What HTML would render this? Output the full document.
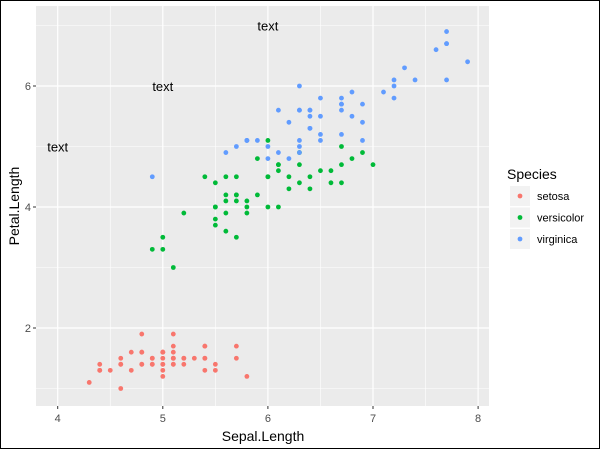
<!DOCTYPE html>
<html><head><meta charset="utf-8"><style>
body{margin:0;background:#fff}
svg{display:block;font-family:"Liberation Sans",sans-serif}
</style></head><body>
<svg id="chart" width="600" height="449">
<rect x="0.5" y="0.5" width="599" height="448" fill="#fff" stroke="#000"/>
<rect x="36" y="6" width="453" height="400" fill="#ebebeb"/>
<g id="grid"></g>
<g id="ticks"></g>
<g id="pts"></g>
<g id="ann"></g>
<text x="263" y="441" text-anchor="middle" font-size="14" fill="#000">Sepal.Length</text>
<text transform="translate(19,206) rotate(-90)" text-anchor="middle" font-size="14" fill="#000">Petal.Length</text>
<g>
<text x="507" y="179" font-size="14" fill="#000">Species</text>
<g id="legend"></g>
</g>
</svg>
<script>
const xTicks=[4,5,6,7,8];
const yTicks=[2,4,6];
const species=["setosa","versicolor","virginica"];
const colors=["#F8766D","#00BA38","#619CFF"];
const setosaSL=[5.1,4.9,4.7,4.6,5.0,5.4,4.6,5.0,4.4,4.9,5.4,4.8,4.8,4.3,5.8,5.7,5.4,5.1,5.7,5.1,5.4,5.1,4.6,5.1,4.8,5.0,5.0,5.2,5.2,4.7,4.8,5.4,5.2,5.5,4.9,5.0,5.5,4.9,4.4,5.1,5.0,4.5,4.4,5.0,5.1,4.8,5.1,4.6,5.3,5.0];
const setosaPL=[1.4,1.4,1.3,1.5,1.4,1.7,1.4,1.5,1.4,1.5,1.5,1.6,1.4,1.1,1.2,1.5,1.3,1.4,1.7,1.5,1.7,1.5,1.0,1.7,1.9,1.6,1.6,1.5,1.4,1.6,1.6,1.5,1.5,1.4,1.5,1.2,1.3,1.4,1.3,1.5,1.3,1.3,1.3,1.6,1.9,1.4,1.6,1.4,1.5,1.4];
const versicolorSL=[7.0,6.4,6.9,5.5,6.5,5.7,6.3,4.9,6.6,5.2,5.0,5.9,6.0,6.1,5.6,6.7,5.6,5.8,6.2,5.6,5.9,6.1,6.3,6.1,6.4,6.6,6.8,6.7,6.0,5.7,5.5,5.5,5.8,6.0,5.4,6.0,6.7,6.3,5.6,5.5,5.5,6.1,5.8,5.0,5.6,5.7,5.7,6.2,5.1,5.7];
const versicolorPL=[4.7,4.5,4.9,4.0,4.6,4.5,4.7,3.3,4.6,3.9,3.5,4.2,4.0,4.7,3.6,4.4,4.5,4.1,4.5,3.9,4.8,4.0,4.9,4.7,4.3,4.4,4.8,5.0,4.5,3.5,3.8,3.7,3.9,5.1,4.5,4.5,4.7,4.4,4.1,4.0,4.4,4.6,4.0,3.3,4.2,4.2,4.2,4.3,3.0,4.1];
const virginicaSL=[6.3,5.8,7.1,6.3,6.5,7.6,4.9,7.3,6.7,7.2,6.5,6.4,6.8,5.7,5.8,6.4,6.5,7.7,7.7,6.0,6.9,5.6,7.7,6.3,6.7,7.2,6.2,6.1,6.4,7.2,7.4,7.9,6.4,6.3,6.1,7.7,6.3,6.4,6.0,6.9,6.7,6.9,5.8,6.8,6.7,6.7,6.3,6.5,6.2,5.9];
const virginicaPL=[6.0,5.1,5.9,5.6,5.8,6.6,4.5,6.3,5.8,6.1,5.1,5.3,5.5,5.0,5.1,5.3,5.5,6.7,6.9,5.0,5.7,4.9,6.7,4.9,5.7,6.0,4.8,4.9,5.6,5.8,6.1,6.4,5.6,5.1,5.6,6.1,5.6,5.5,4.8,5.4,5.6,5.1,5.1,5.9,5.7,5.2,5.0,5.2,5.4,5.1];
const annX=[4,5,6];
const annY=[5,6,7];
const annLabels=["text","text","text"];

const NS="http://www.w3.org/2000/svg";
const xs=v=>57.7+(v-4)*105.1;
const ys=v=>86+(6-v)*60.5;
function mk(parent,tag,attrs){const e=document.createElementNS(NS,tag);for(const k in attrs)e.setAttribute(k,attrs[k]);parent.appendChild(e);return e;}
const grid=document.getElementById('grid'),ticks=document.getElementById('ticks');
[3.5,4.5,5.5,6.5,7.5].forEach(v=>{const l=mk(grid,'line',{x1:xs(v),x2:xs(v),y1:6,y2:406,stroke:'#fff','stroke-width':0.6});

});
[1,3,5,7].forEach(v=>{const l=mk(grid,'line',{x1:36,x2:489,y1:ys(v),y2:ys(v),stroke:'#fff','stroke-width':0.6});

});
xTicks.forEach(v=>{const l=mk(grid,'line',{x1:xs(v),x2:xs(v),y1:6,y2:406,stroke:'#fff','stroke-width':1.2});


const t=mk(ticks,'line',{x1:xs(v),x2:xs(v),y1:406,y2:409,stroke:'#333'});


const tx=mk(ticks,'text',{x:xs(v),y:422,'text-anchor':'middle','font-size':11,fill:'#4d4d4d'});tx.textContent=v;

});
yTicks.forEach(v=>{const l=mk(grid,'line',{x1:36,x2:489,y1:ys(v),y2:ys(v),stroke:'#fff','stroke-width':1.2});


const t=mk(ticks,'line',{x1:33,x2:36,y1:ys(v),y2:ys(v),stroke:'#333'});


const tx=mk(ticks,'text',{x:31,y:ys(v)+4,'text-anchor':'end','font-size':11,fill:'#4d4d4d'});tx.textContent=v;

});
const pts=document.getElementById('pts');
[[setosaSL,setosaPL],[versicolorSL,versicolorPL],[virginicaSL,virginicaPL]].forEach((s,i)=>{
s[0].forEach((x,j)=>{const c=mk(pts,'circle',{cx:xs(x),cy:ys(s[1][j]),r:2.4,fill:colors[i]});

});});
const ann=document.getElementById('ann');
annX.forEach((x,i)=>{const t=mk(ann,'text',{x:xs(x),y:ys(annY[i])+5,'text-anchor':'middle','font-size':13,fill:'#000'});t.textContent=annLabels[i];

});
const lg=document.getElementById('legend');
species.forEach((s,i)=>{const y0=186+i*21.5;
const r=mk(lg,'rect',{x:510,y:y0,width:20,height:20,fill:'#f2f2f2'});


const c=mk(lg,'circle',{cx:520,cy:y0+10,r:2.4,fill:colors[i]});


const t=mk(lg,'text',{x:537,y:y0+14,'font-size':11,fill:'#000'});t.textContent=s;

});
</script>
</body></html>
